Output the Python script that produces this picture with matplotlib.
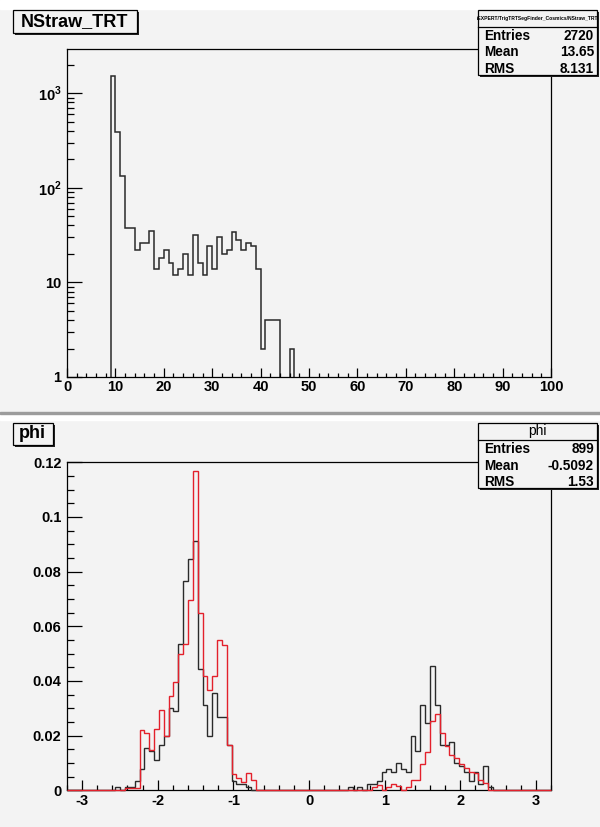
import numpy as np
import matplotlib
matplotlib.use("Agg")
import matplotlib.pyplot as plt
from matplotlib.patches import Rectangle
from matplotlib.ticker import FixedLocator, FixedFormatter, MultipleLocator, LogLocator, NullFormatter

plt.rcParams['font.family'] = ['Liberation Sans', 'DejaVu Sans']
plt.rcParams['font.weight'] = 'bold'
plt.rcParams['mathtext.fontset'] = 'custom'
plt.rcParams['mathtext.rm'] = 'Liberation Sans:bold'
plt.rcParams['mathtext.bf'] = 'Liberation Sans:bold'

W, H = 600, 827
PAD = '#f3f3f3'

# NStraw_TRT: 100 bins of width 1 on [0, 100]
nstraw_first_bin = 9
nstraw_counts = [1535, 389, 135, 38, 38, 22, 26, 26, 35, 14, 18, 22, 16, 12, 14, 20,
                 12, 32, 16, 12, 24, 14, 30, 20, 22, 34, 28, 22, 26, 24, 14, 2,
                 4, 4, 4, 0, 0, 2]
nstraw_stats = [("Entries", "2720"), ("Mean", "13.65"), ("RMS", "8.131")]

# phi: 100 bins on [-3.2, 3.2], black = counts (899 entries, unit area), red = reference
phi_entries = 899
phi_black_left_first = 10
phi_black_left = [1, 0, 1, 1, 3, 7, 14, 13, 10, 15, 18, 27, 26, 48, 69, 76, 82, 40,
                  28, 18, 32, 24, 24, 15, 3, 2, 2, 1]
phi_black_right_first = 58
phi_black_right = [1, 0, 1, 0, 2, 2, 3, 6, 7, 6, 9, 7, 6, 18, 13, 28, 22, 41, 28, 15,
                   15, 16, 9, 8, 6, 3, 6, 2, 8, 1]
phi_red_left_first = 12
phi_red_left = [0.0007, 0.0007, 0.0007, 0.0222, 0.0208, 0.0148, 0.0225, 0.0295, 0.0200,
                0.0346, 0.0398, 0.0500, 0.0535, 0.0697, 0.1167, 0.0647, 0.0417, 0.0368,
                0.0417, 0.0551, 0.0530, 0.0165, 0.0060, 0.0044, 0.0030, 0.0062, 0.0038]
phi_red_right_first = 62
phi_red_right = [0.0, 0.0013, 0.0020, 0.0, 0.0013, 0.0022, 0.0015, 0.0, 0.0013, 0.0038,
                 0.0038, 0.0098, 0.0141, 0.0254, 0.0280, 0.0208, 0.0162, 0.0129, 0.0117,
                 0.0098, 0.0080, 0.0068, 0.0062, 0.0038, 0.0025]
phi_stats = [("Entries", "899"), ("Mean", "-0.5092"), ("RMS", "1.53")]


def fx(x):
    return x / W


def fy(y):
    return 1 - y / H


def fill_bins(n, first, vals):
    out = np.zeros(n)
    out[first:first + len(vals)] = vals
    return out


def box(fig, x0, y0, x1, y1, shadow=2):
    fig.add_artist(Rectangle((fx(x0 + shadow), fy(y1 + shadow)), (x1 - x0) / W, (y1 - y0) / H,
                             transform=fig.transFigure, facecolor='#222222', edgecolor='none', zorder=5))
    fig.add_artist(Rectangle((fx(x0), fy(y1)), (x1 - x0) / W, (y1 - y0) / H,
                             transform=fig.transFigure, facecolor=PAD, edgecolor='black', lw=0.9, zorder=5))


def stats_box(fig, y0, title, title_size, title_weight, rows):
    x0, x1 = 478, 597
    box(fig, x0, y0, x1, y0 + 65)
    fig.text(fx((x0 + x1) / 2), fy(y0 + 8.5), title, ha='center', va='center',
             fontsize=title_size, fontweight=title_weight, zorder=6)
    fig.add_artist(plt.Line2D([fx(x0), fx(x1)], [fy(y0 + 17), fy(y0 + 17)],
                              transform=fig.transFigure, color='black', lw=0.9, zorder=6))
    for i, (k, v) in enumerate(rows):
        yy = fy(y0 + 26 + 16.5 * i)
        fig.text(fx(484), yy, k, ha='left', va='center', fontsize=9.8, zorder=6)
        fig.text(fx(594), yy, v, ha='right', va='center', fontsize=9.8, zorder=6)


fig = plt.figure(figsize=(W / 100, H / 100), dpi=100, facecolor=PAD)

# pad borders
fig.add_artist(Rectangle((0, fy(9)), 1, 9 / H, transform=fig.transFigure, color='white', zorder=0))
fig.add_artist(Rectangle((0, fy(420)), 1, 6 / H, transform=fig.transFigure, color='white', zorder=0))
fig.add_artist(Rectangle((0, fy(414)), 1, 1.6 / H, transform=fig.transFigure, color='#9c9c9c', zorder=0))

# ---- top: NStraw_TRT (log y)
ax1 = fig.add_axes([fx(67), fy(377), (551 - 67) / W, (377 - 49) / H])
ax1.set_facecolor(PAD)
edges1 = np.arange(0, 101, 1)
vals1 = fill_bins(100, nstraw_first_bin, nstraw_counts)
ax1.stairs(np.where(vals1 > 0, vals1, 1e-2), edges1, baseline=None, color='#2a2a2a', lw=1.1)
ax1.set_yscale('log')
ax1.set_xlim(0, 100)
ax1.set_ylim(1, 2940)
ax1.xaxis.set_major_locator(MultipleLocator(10))
ax1.xaxis.set_minor_locator(MultipleLocator(2))
ax1.yaxis.set_major_locator(FixedLocator([1, 10, 100, 1000]))
ax1.yaxis.set_major_formatter(FixedFormatter(['1', '10', '$10^{2}$', '$10^{3}$']))
ax1.yaxis.set_minor_locator(LogLocator(subs=range(2, 10)))
ax1.yaxis.set_minor_formatter(NullFormatter())
ax1.tick_params(axis='x', which='major', direction='in', length=6.7, width=0.9, labelsize=10.5, pad=2)
ax1.tick_params(axis='x', which='minor', direction='in', length=3.1, width=0.9)
ax1.tick_params(axis='y', which='major', direction='in', length=10.8, width=0.9, labelsize=10.5, pad=4)
ax1.tick_params(axis='y', which='minor', direction='in', length=5.3, width=0.9)
ax1.tick_params(top=False, right=False, which='both')

box(fig, 12.5, 10, 137, 33)
fig.text(fx(75), fy(22), 'NStraw_TRT', ha='center', va='center', fontsize=13, zorder=6)
stats_box(fig, 10, '/EXPERT/TrigTRTSegFinder_Cosmics/NStraw_TRT', 3.6, 'bold', nstraw_stats)

# ---- bottom: phi
ax2 = fig.add_axes([fx(67), fy(790.3), (551 - 67) / W, (790.3 - 462.3) / H])
ax2.set_facecolor(PAD)
edges2 = np.linspace(-3.2, 3.2, 101)
black = (fill_bins(100, phi_black_left_first, phi_black_left)
         + fill_bins(100, phi_black_right_first, phi_black_right)) / phi_entries
red = (fill_bins(100, phi_red_left_first, phi_red_left)
       + fill_bins(100, phi_red_right_first, phi_red_right))
ax2.stairs(black, edges2, baseline=None, color='#2a2a2a', lw=1.0, zorder=3, clip_on=False)
ax2.stairs(red, edges2, baseline=None, color='#e3202b', lw=1.0, zorder=4, clip_on=False)
ax2.set_xlim(-3.2, 3.2)
ax2.set_ylim(0, 0.12)
ax2.xaxis.set_major_locator(FixedLocator([-3, -2, -1, 0, 1, 2, 3]))
ax2.xaxis.set_major_formatter(FixedFormatter(['-3', '-2', '-1', '0', '1', '2', '3']))
ax2.xaxis.set_minor_locator(MultipleLocator(0.2))
ax2.yaxis.set_major_locator(FixedLocator([0, 0.02, 0.04, 0.06, 0.08, 0.1, 0.12]))
ax2.yaxis.set_major_formatter(FixedFormatter(['0', '0.02', '0.04', '0.06', '0.08', '0.1', '0.12']))
ax2.yaxis.set_minor_locator(MultipleLocator(0.005))
ax2.tick_params(axis='x', which='major', direction='in', length=7.2, width=0.9, labelsize=10.5, pad=3)
ax2.tick_params(axis='x', which='minor', direction='in', length=3.6, width=0.9)
ax2.tick_params(axis='y', which='major', direction='in', length=10.8, width=0.9, labelsize=10.5, pad=4)
ax2.tick_params(axis='y', which='minor', direction='in', length=5.3, width=0.9)
ax2.tick_params(top=False, right=False, which='both')

box(fig, 12.5, 423, 53, 445)
fig.text(fx(32.5), fy(433), 'phi', ha='center', va='center', fontsize=13, zorder=6)
stats_box(fig, 423, 'phi', 10, 'normal', phi_stats)

for ax in (ax1, ax2):
    for s in ax.spines.values():
        s.set_linewidth(0.9)

fig.savefig('out.png', dpi=100, facecolor=PAD)
